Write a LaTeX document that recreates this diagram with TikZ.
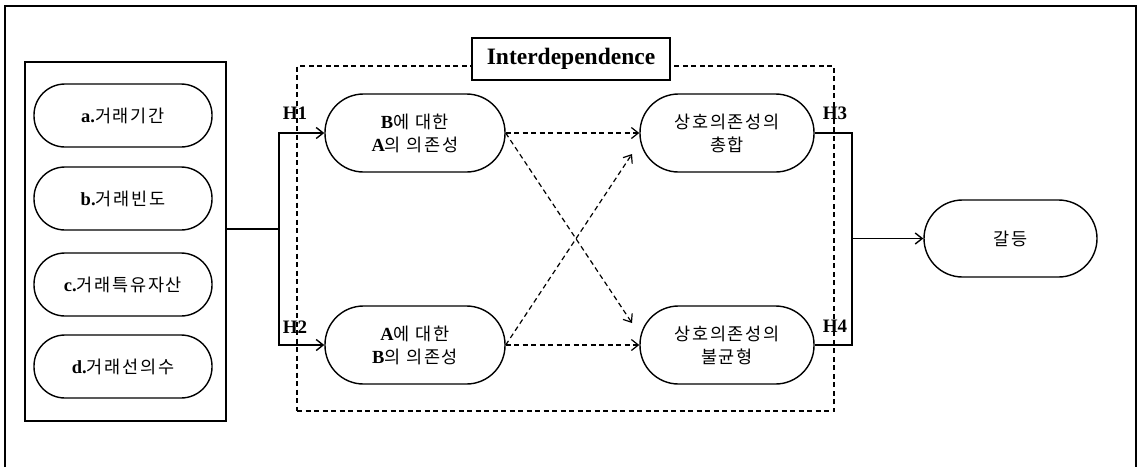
\documentclass[tikz,border=0pt]{standalone}
\usepackage{fontspec}
\setmainfont{Liberation Serif}
\newfontfamily\krfont{Noto Sans CJK KR}[LetterSpace=10]
\usetikzlibrary{arrows.meta}
\newcommand{\krt}[1]{{\krfont\fontsize{17.5}{23}\selectfont #1}}
\begin{document}
\begin{tikzpicture}[x=1pt,y=-1pt,
  txt/.style={font=\fontsize{18.5}{23}\selectfont, align=center, text=black},
  pillS/.style={txt, draw, line width=1.4pt, rounded corners=31pt, minimum width=178pt, minimum height=63pt, inner sep=0pt},
  pill/.style={txt, draw, line width=1.4pt, rounded corners=38.5pt, minimum height=78pt, inner sep=0pt},
  conn/.style={line width=1.4pt},
  arr/.style={conn, -{Straight Barb[length=7pt,width=11pt]}},
  darr/.style={line width=1.2pt, dash pattern=on 5pt off 3.5pt, -{Straight Barb[length=7pt,width=11pt]}},
  hlab/.style={font=\fontsize{19}{22}\selectfont\bfseries, inner sep=0pt}
]
\useasboundingbox (0,0) rectangle (1139,467);
% outer open frame
\draw[line width=2.2pt] (5,467) -- (5,6) -- (1136,6) -- (1136,467);

% left box
\node (lbox) [draw, line width=1.4pt, minimum width=201pt, minimum height=359pt, inner sep=0pt] at (125.5,241.5) {};
\node (la) [pillS] at (123,115.5) {{\bfseries a.}\krt{거래기간}};
\node (lb) [pillS] at (123,198.5) {{\bfseries b.}\krt{거래빈도}};
\node (lc) [pillS] at (123,284.5) {{\bfseries c.}\krt{거래특유자산}};
\node (ld) [pillS] at (123,366.5) {{\bfseries d.}\krt{거래선의수}};

% dashed interdependence box
\node (dbox) [draw, line width=1.2pt, dash pattern=on 5pt off 3.5pt, minimum width=537pt, minimum height=345pt, inner sep=0pt] at (565.5,238.5) {};
\node (title) [draw, fill=white, line width=1.4pt, minimum width=198pt, minimum height=42pt, inner sep=0pt, font=\fontsize{23.5}{26}\selectfont\bfseries] at (571,59) {Interdependence};

% pills
\node (p1) [pill, minimum width=180pt] at (415,133) {{\bfseries B}\krt{에 대한}\\{\bfseries A}\krt{의 의존성}};
\node (p2) [pill, minimum width=180pt] at (415,345) {{\bfseries A}\krt{에 대한}\\{\bfseries B}\krt{의 의존성}};
\node (p3) [pill, minimum width=174pt] at (727,133) {\krt{상호의존성의}\\\krt{총합}};
\node (p4) [pill, minimum width=174pt] at (727,345) {\krt{상호의존성의}\\\krt{불균형}};
\node (g)  [pill, minimum width=173pt, minimum height=77pt] at (1010.5,238.5) {\krt{갈등}};

% left connectors
\coordinate (j1) at (279,229);
\draw[conn] (lbox.east |- j1) -- (j1);
\draw[arr] (j1) |- (p1.west);
\draw[arr] (j1) |- (p2.west);

% dashed connectors
\coordinate (d1) at (632,323);
\coordinate (d2) at (632,154);
\draw[darr] (p1.east) -- (p3.west);
\draw[darr] (p2.east) -- (p4.west);
\draw[darr] (p1.east) -- (d1);
\draw[darr] (p2.east) -- (d2);

% right connectors
\coordinate (j2) at (852,238.5);
\draw[conn] (p3.east) -| (j2);
\draw[conn] (p4.east) -| (j2);
\draw[arr] (j2) -- (g.west);

% hypothesis labels
\node (h1) [hlab] at (295,113) {H1};
\node (h2) [hlab] at (295,327) {H2};
\node (h3) [hlab] at (835,113) {H3};
\node (h4) [hlab] at (835,326) {H4};
\end{tikzpicture}
\end{document}
